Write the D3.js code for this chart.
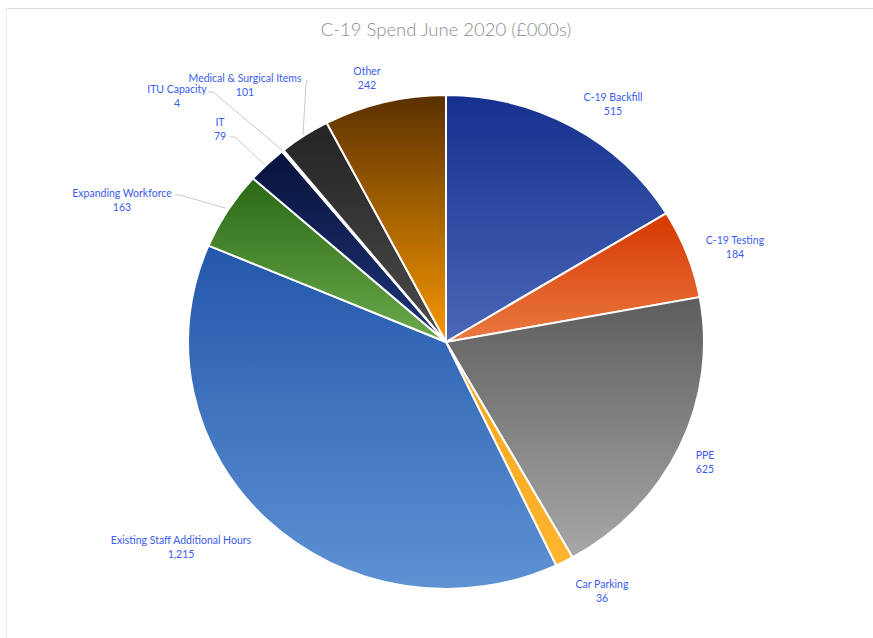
<!DOCTYPE html>
<html><head><meta charset="utf-8">
<script src="https://cdn.jsdelivr.net/npm/d3@7"></script>
<style>body{margin:0;background:#fff;}svg{display:block;font-family:Lato,"Open Sans",sans-serif;}</style>
</head><body>
<svg id="c" width="873" height="638"></svg>
<script>
const categories = ["C-19 Backfill","C-19 Testing","PPE","Car Parking","Existing Staff Additional Hours","Expanding Workforce","IT","ITU Capacity","Medical & Surgical Items","Other"];
const values = [515,184,625,36,1215,163,79,4,101,242];
const colorTop = ["#15308e","#d43800","#5d5d5d","#f5a51f","#2257ab","#2a6816","#08133c","#3b5b9c","#242424","#5a3000"];
const colorBottom = ["#4a67b8","#ea7a42","#a8a8a8","#ffb52e","#5e92d3","#6caa4c","#1e3578","#5a7bc0","#4c4c4c","#f79800"];
const title = "C-19 Spend June 2020 (£000s)";

// layout
const cx = 446, cy = 342, ry = 247, rx = 258;
const labelPos = [[613,97],[735,240],[705,455],[602,584],[181,540],[122,193],[220,122],[177,89],[245,78],[367,71]];
const leaders = {5:[[175,195],[180,195],[225,208]],6:[[230,137],[235,137],[265,165]],7:[[208,92],[213,92],[282,150]],8:[[307,80],[306,84],[303,135]]};

const svg = d3.select("#c");
// frame
svg.append("line").attr("x1",6).attr("y1",8.5).attr("x2",873).attr("y2",8.5).attr("stroke","#dcdcdc");
svg.append("line").attr("x1",6.5).attr("y1",8).attr("x2",6.5).attr("y2",638).attr("stroke","#efefef");

svg.append("text").attr("x",446).attr("y",36).attr("text-anchor","middle")
  .attr("font-size",18.5).attr("font-weight",300).attr("fill","#8c8c8c").text(title);

const defs = svg.append("defs");
categories.forEach((c,i)=>{
  const g = defs.append("linearGradient").attr("id","g"+i).attr("x1",0).attr("y1",0).attr("x2",0).attr("y2",1);
  g.append("stop").attr("offset","0%").attr("stop-color",colorTop[i]);
  g.append("stop").attr("offset","100%").attr("stop-color",colorBottom[i]);
});

const pie = d3.pie().sort(null).value(d=>d)(values);
const arc = d3.arc().innerRadius(0).outerRadius(ry);
const gp = svg.append("g").attr("transform",`translate(${cx},${cy}) scale(${rx/ry},1)`);
gp.selectAll("path").data(pie).join("path")
  .attr("d",arc).attr("fill",(d,i)=>`url(#g${i})`)
  .attr("stroke","#fff").attr("stroke-width",2).attr("vector-effect","non-scaling-stroke");

// leader lines
Object.entries(leaders).forEach(([k,pts])=>{
  svg.append("path").attr("d",d3.line()(pts)).attr("fill","none").attr("stroke","#c9c9c9").attr("stroke-width",1);
});

const fmt = d3.format(",");
const lg = svg.append("g").attr("font-size",10.5).attr("fill","#3a5cf0").attr("text-anchor","middle");
categories.forEach((c,i)=>{
  const t = lg.append("text").attr("x",labelPos[i][0]).attr("y",labelPos[i][1]+3.5);
  t.append("tspan").attr("x",labelPos[i][0]).text(c);
  t.append("tspan").attr("x",labelPos[i][0]).attr("dy",14).text(fmt(values[i]));
});
</script>
</body></html>
